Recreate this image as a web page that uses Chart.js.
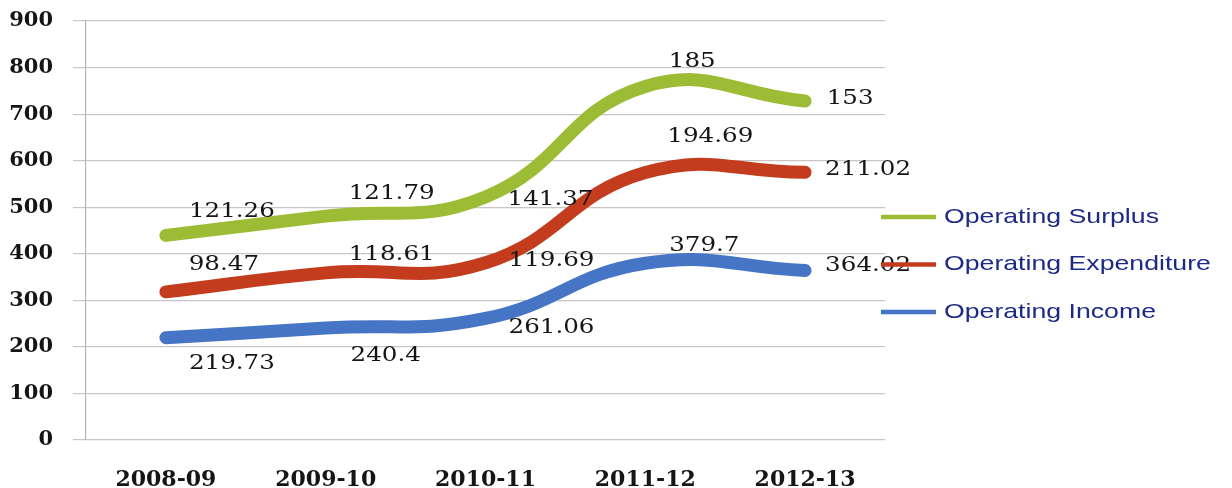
<!DOCTYPE html>
<html>
<head>
<meta charset="utf-8">
<script src="https://cdn.jsdelivr.net/npm/chart.js@4/dist/chart.umd.min.js"></script>
<style>
  html, body { margin: 0; padding: 0; background: #fff; }
  #wrap { width: 1232px; height: 488px; }
</style>
</head>
<body>
<div id="wrap"><canvas id="opChart" width="1232" height="488"></canvas></div>
<script>
var years = ["2008-09", "2009-10", "2010-11", "2011-12", "2012-13"];
var income = [219.73, 240.4, 261.06, 379.7, 364.02];
var expenditure = [98.47, 118.61, 119.69, 194.69, 211.02];
var surplus = [121.26, 121.79, 141.37, 185, 153];

// label nudges (px) per series, relative to each point
var incomeShift = [[66, 26], [60, 27], [66, 9], [59, -18], [63, -5]];
var expShift = [[58, -27], [66, -18], [66, -2], [65, -36], [63, -3]];
var surplusShift = [[66, -24], [66, -23], [65, 3], [47, -25], [45, -3]];

var serif = "'DejaVu Serif', 'Liberation Serif', serif";

// writes text squeezed/widened along x only
function wideText(ctx, txt, x, y, sx) {
    ctx.save();
    ctx.translate(x, y);
    ctx.scale(sx, 1);
    ctx.fillText(txt, 0, 0);
    ctx.restore();
}

var pointLabels = {
    id: 'pointLabels',
    afterDatasetsDraw: function(chart) {
        var ctx = chart.ctx;
        ctx.save();
        ctx.font = "21px " + serif;
        ctx.fillStyle = '#151515';
        ctx.textAlign = 'center';
        ctx.textBaseline = 'middle';
        chart.data.datasets.forEach(function(ds, i) {
            var meta = chart.getDatasetMeta(i);
            meta.data.forEach(function(pt, j) {
                var s = ds.shift[j];
                wideText(ctx, String(ds.data[j]), pt.x + s[0], pt.y + s[1], 1.17);
            });
        });
        ctx.restore();
    }
};

// legend on the right, drawn by hand: line swatch + label
var sideLegend = {
    id: 'sideLegend',
    afterDraw: function(chart) {
        var ctx = chart.ctx;
        var sets = chart.data.datasets.slice().reverse();
        var left = chart.chartArea.right - 4;
        ctx.save();
        ctx.font = "21px 'Liberation Sans', Arial, sans-serif";
        ctx.textBaseline = 'middle';
        ctx.textAlign = 'left';
        sets.forEach(function(ds, k) {
            var y = 217 + k * 47.5;
            ctx.strokeStyle = ds.borderColor;
            ctx.lineWidth = 4.5;
            ctx.beginPath();
            ctx.moveTo(left, y);
            ctx.lineTo(left + 55, y);
            ctx.stroke();
            ctx.fillStyle = '#1c2a86';
            wideText(ctx, ds.label, left + 63, y, 1.27);
        });
        ctx.restore();
    }
};

var canvas = document.getElementById("opChart").getContext('2d');

var lineStyle = {
    fill: false,
    borderWidth: 13,
    tension: 0.45,
    pointRadius: 0,
    borderCapStyle: 'round',
    borderJoinStyle: 'round'
};

var opChart = new Chart(canvas, {
    type: 'line',
    data: {
        labels: years,
        datasets: [
            Object.assign({ label: 'Operating Income', data: income, borderColor: '#4675c6', shift: incomeShift }, lineStyle),
            Object.assign({ label: 'Operating Expenditure', data: expenditure, borderColor: '#c43c1e', shift: expShift }, lineStyle),
            Object.assign({ label: 'Operating Surplus', data: surplus, borderColor: '#9dbc36', shift: surplusShift }, lineStyle)
        ]
    },
    options: {
        responsive: false,
        animation: false,
        layout: { padding: { top: 21, left: 9, right: 347, bottom: 0 } },
        plugins: {
            legend: { display: false },
            tooltip: { enabled: false }
        },
        scales: {
            x: {
                offset: true,
                grid: { display: false, tickLength: 29 },
                border: { display: false },
                ticks: {
                    color: '#151515',
                    font: { family: serif, size: 22, weight: 'bold', lineHeight: 1 },
                    padding: 0,
                    maxRotation: 0,
                    autoSkip: false
                },
                afterFit: function(scale) { scale.height = 48; scale.paddingLeft = 0; scale.paddingRight = 0; }
            },
            y: {
                stacked: true,
                min: 0,
                max: 900,
                grid: { color: '#c6c6c6', lineWidth: 1.2, tickLength: 13 },
                border: { color: '#b4b4b4', width: 1.2 },
                ticks: {
                    stepSize: 100,
                    color: '#151515',
                    font: { family: serif, size: 21, weight: 'bold' },
                    padding: 20
                },
                afterFit: function(scale) { scale.width = 77; scale.paddingTop = 0; scale.paddingBottom = 0; }
            }
        }
    },
    plugins: [pointLabels, sideLegend]
});
</script>
</body>
</html>
